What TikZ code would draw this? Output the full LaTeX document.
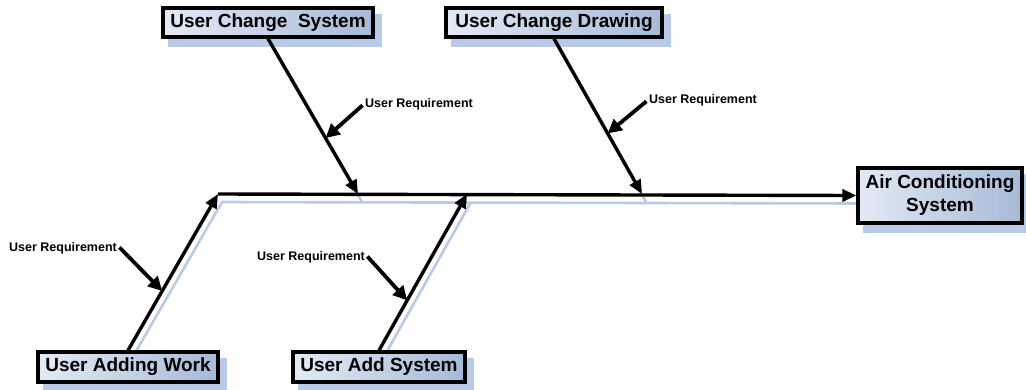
\documentclass[tikz,border=0pt]{standalone}
\usepackage{fontspec}
\setmainfont{Liberation Sans}
\usetikzlibrary{arrows.meta}
\pgfdeclarelayer{background}
\pgfsetlayers{background,main}
\definecolor{shadowblue}{HTML}{B8CAE8}
\definecolor{boxlight}{HTML}{E2EAF5}
\definecolor{boxdark}{HTML}{A6BAD7}
\tikzset{
  cause/.style={draw, line width=3.2pt, inner sep=0pt,
    left color=boxlight, right color=boxdark,
    font=\bfseries\fontsize{19}{23}\selectfont, align=center},
  bone/.style={line width=3.4pt, -{Triangle[length=14pt,width=12pt]}},
  boneshadow/.style={line width=2.6pt, shadowblue},
  req/.style={font=\bfseries\fontsize{12.5}{14}\selectfont, inner sep=1pt},
  reqarrow/.style={line width=3.8pt, -{Triangle[length=14pt,width=14pt]}, shorten <=2pt}
}
\begin{document}
\begin{tikzpicture}[x=1pt,y=-1pt]
\useasboundingbox (0,0) rectangle (1026,389);

% effect and cause boxes
\node[cause, minimum width=164, minimum height=55] (ac) at (940,195.5) {Air Conditioning\\System};
\node[cause, minimum width=210, minimum height=29] (ucs) at (268,22.5) {User Change\ \ System};
\node[cause, minimum width=216, minimum height=29] (ucd) at (554,22.5) {User Change Drawing};
\node[cause, minimum width=180, minimum height=30] (uaw) at (128,367) {User Adding Work};
\node[cause, minimum width=172, minimum height=30] (uas) at (379,367) {User Add System};

% junctions on the spine
\coordinate (s0) at (218,194);
\coordinate (s1) at (358,194);
\coordinate (s2) at (467,194);
\coordinate (s3) at (642,194);

% points where the requirement arrows meet the bones
\path (ucs.south) -- (s1) coordinate[pos=0.64] (r1);
\path (ucd.south) -- (s3) coordinate[pos=0.61] (r2);
\path (uaw.north) -- (s0) coordinate[pos=0.38] (r3);
\path (uas.north) -- (s2) coordinate[pos=0.32] (r4);

% soft blue shadows behind boxes and bones
\begin{pgfonlayer}{background}
  \foreach \n in {ac,ucs,ucd,uaw,uas}{
    \fill[shadowblue] ([shift={(7,8)}]\n.north west) rectangle ([shift={(7,8)}]\n.south east);
  }
  \draw[boneshadow] ([shift={(4,8)}]s0) -- ([shift={(4,8)}]ac.west);
  \draw[boneshadow] ([shift={(4,8)}]ucs.south) -- ([shift={(4,8)}]s1);
  \draw[boneshadow] ([shift={(4,8)}]ucd.south) -- ([shift={(4,8)}]s3);
  \draw[boneshadow] ([shift={(4,8)}]uaw.north) -- ([shift={(4,8)}]s0);
  \draw[boneshadow] ([shift={(4,8)}]uas.north) -- ([shift={(4,8)}]s2);
\end{pgfonlayer}

% spine and bones
\draw[bone] (s0) -- (ac.west);
\draw[bone] (ucs.south) -- (s1);
\draw[bone] (ucd.south) -- (s3);
\draw[bone] (uaw.north) -- (s0);
\draw[bone] (uas.north) -- (s2);

% requirement labels
\node[req, anchor=west] (l1) at (364,104) {User Requirement};
\node[req, anchor=west] (l2) at (648,100) {User Requirement};
\node[req, anchor=west] (l3) at (8,248) {User Requirement};
\node[req, anchor=west] (l4) at (256,257) {User Requirement};

\draw[reqarrow] (l1.west) -- (r1);
\draw[reqarrow] (l2.west) -- (r2);
\draw[reqarrow] ([yshift=2]l3.east) -- (r3);
\draw[reqarrow] ([yshift=2]l4.east) -- (r4);
\end{tikzpicture}
\end{document}
